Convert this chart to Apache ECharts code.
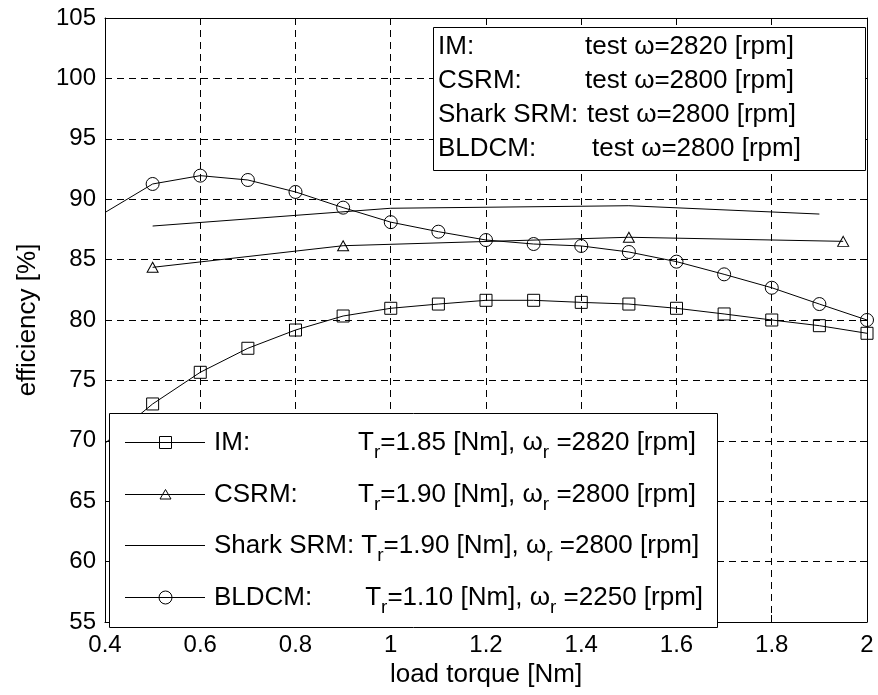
<!DOCTYPE html>
<html><head><meta charset="utf-8">
<script src="https://cdn.jsdelivr.net/npm/echarts@6/dist/echarts.min.js"></script>
<style>html,body{margin:0;padding:0;background:#fff}#c{width:878px;height:695px}</style>
</head><body><div id="c"></div>
<script>
// ---- data ----
const torqueIM = [0.4, 0.5, 0.6, 0.7, 0.8, 0.9, 1.0, 1.1, 1.2, 1.3, 1.4, 1.5, 1.6, 1.7, 1.8, 1.9, 2.0];
const effIM    = [69.8, 73.05, 75.67, 77.66, 79.17, 80.33, 80.97, 81.32, 81.63, 81.63, 81.46, 81.32, 80.97, 80.5, 80.0, 79.53, 78.9];
const torqueBLDCM = [0.4, 0.5, 0.6, 0.7, 0.8, 0.9, 1.0, 1.1, 1.2, 1.3, 1.4, 1.5, 1.6, 1.7, 1.8, 1.9, 2.0];
const effBLDCM    = [88.9, 91.26, 91.95, 91.59, 90.6, 89.3, 88.1, 87.31, 86.62, 86.29, 86.13, 85.63, 84.83, 83.78, 82.67, 81.32, 80.0];
const torqueCSRM = [0.5, 0.9, 1.5, 1.95];
const effCSRM    = [84.36, 86.15, 86.85, 86.51];
const torqueShark = [0.5, 1.0, 1.5, 1.9];
const effShark    = [87.78, 89.25, 89.46, 88.77];

const xMin = 0.4, xMax = 2, xStep = 0.2;
const yMin = 55, yMax = 105, yStep = 5;

const motorNames = ['IM:', 'CSRM:', 'Shark SRM:', 'BLDCM:'];
const testSpeeds = ['2820', '2800', '2800', '2800'];
const ratedTorque = ['1.85', '1.90', '1.90', '1.10'];
const ratedSpeed  = ['2820', '2800', '2800', '2250'];
const xTitle = 'load torque [Nm]';
const yTitle = 'efficiency [%]';

// ---- chart ----
const FONT = 'Liberation Sans, Arial, sans-serif';
const chart = echarts.init(document.getElementById('c'), null, {renderer: 'canvas'});

const G = {left: 105, top: 18, width: 762, height: 604};
const markerStyle = {color: 'none', borderColor: '#000', borderWidth: 1};

function pairs(xs, ys, hideFirst) {
  return xs.map((x, i) => (hideFirst && i === 0) ? {value: [x, ys[i]], symbol: 'none'} : [x, ys[i]]);
}
function lineSeries(name, data, symbol, size) {
  return {
    name, type: 'line', data, symbol, symbolSize: size, showSymbol: symbol !== 'none',
    clip: true, animation: false, z: 3,
    lineStyle: {color: '#000', width: 1}, itemStyle: markerStyle,
    emphasis: {disabled: true}
  };
}

const axisCommonX = {
  type: 'value', min: xMin, max: xMax, interval: xStep,
  axisLine: {show: true, onZero: false, lineStyle: {color: '#000', width: 1}},
  axisTick: {show: true, inside: true, length: 7, lineStyle: {color: '#000'}}
};
const axisCommonY = {
  type: 'value', min: yMin, max: yMax, interval: yStep,
  axisLine: {show: true, onZero: false, lineStyle: {color: '#000', width: 1}},
  axisTick: {show: true, inside: true, length: 7, lineStyle: {color: '#000'}}
};
const gridLine = {show: true, lineStyle: {color: '#000', width: 1, type: [7, 5]}};

const LFS = 26;   // legend font size
// legend graphics
const graphics = [];
// upper legend box
const UB = {x: 433.5, y: 27.5, w: 432, h: 143};
graphics.push({type: 'rect', z: 100, shape: {x: UB.x, y: UB.y, width: UB.w, height: UB.h},
  style: {fill: '#fff', stroke: '#000', lineWidth: 1}});
motorNames.forEach((n, i) => {
  const yy = 47 + i * 34;
  graphics.push({type: 'text', z: 101, style: {x: 438, y: yy, text: n, fill: '#000',
    fontSize: LFS, fontFamily: FONT, align: 'left', verticalAlign: 'middle'}});
  graphics.push({type: 'text', z: 101, style: {x: (i === 3 ? 592 : (i === 2 ? 587 : 585)), y: yy,
    text: 'test ω=' + testSpeeds[i] + ' [rpm]', fill: '#000',
    fontSize: LFS, fontFamily: FONT, align: 'left', verticalAlign: 'middle'}});
});
// lower legend box
const LB = {x: 109.5, y: 413.5, w: 608, h: 214};
graphics.push({type: 'rect', z: 100, shape: {x: LB.x, y: LB.y, width: LB.w, height: LB.h},
  style: {fill: '#fff', stroke: '#000', lineWidth: 1}});
const symbols = ['rect', 'triangle', 'none', 'circle'];
motorNames.forEach((n, i) => {
  const yy = Math.round(442 + i * 51.7) + 0.5;
  graphics.push({type: 'line', z: 101, shape: {x1: 125, y1: yy, x2: 205, y2: yy},
    style: {stroke: '#000', lineWidth: 1}});
  const cx = 165.5;
  if (symbols[i] === 'rect') {
    graphics.push({type: 'rect', z: 102, shape: {x: cx - 6, y: yy - 6, width: 12, height: 12},
      style: {fill: 'none', stroke: '#000', lineWidth: 1}});
  } else if (symbols[i] === 'triangle') {
    graphics.push({type: 'polygon', z: 102, shape: {points: [[cx, yy - 5], [cx + 5.5, yy + 4.5], [cx - 5.5, yy + 4.5]]},
      style: {fill: 'none', stroke: '#000', lineWidth: 1}});
  } else if (symbols[i] === 'circle') {
    graphics.push({type: 'circle', z: 102, shape: {cx: cx, cy: yy, r: 6.5},
      style: {fill: 'none', stroke: '#000', lineWidth: 1}});
  }
  const nameTok = n.length > 8 ? '{m|' + n + ' }' : '{n|' + n + '}';
  graphics.push({type: 'text', z: 101, style: {
    x: 214, y: yy,
    text: nameTok + '{t|' + (i === 3 ? ' ' : '') + 'T}{s|r}{t|=' + ratedTorque[i] + ' [Nm], ω}{s|r}{t| =' + ratedSpeed[i] + ' [rpm]}',
    fill: '#000', fontSize: LFS, fontFamily: FONT, align: 'left', verticalAlign: 'middle',
    rich: {
      n: {width: 144, fontSize: LFS, fontFamily: FONT, lineHeight: 44},
      m: {fontSize: LFS, fontFamily: FONT, lineHeight: 44},
      t: {fontSize: LFS, fontFamily: FONT, lineHeight: 44},
      s: {fontSize: 19, fontFamily: FONT, lineHeight: 24, padding: [20, 0, 0, 0]}
    }
  }});
});

const option = {
  animation: false,
  backgroundColor: '#fff',
  grid: {left: G.left, top: G.top, width: G.width, height: G.height, containLabel: false},
  xAxis: [
    Object.assign({}, axisCommonX, {position: 'bottom', name: xTitle, nameLocation: 'middle', nameGap: 32,
      nameTextStyle: {fontSize: 26, fontFamily: FONT, color: '#000'},
      axisLabel: {show: true, fontSize: 24, fontFamily: FONT, color: '#000', margin: 11},
      splitLine: gridLine}),
    Object.assign({}, axisCommonX, {position: 'top', axisLabel: {show: false}, splitLine: {show: false}})
  ],
  yAxis: [
    Object.assign({}, axisCommonY, {position: 'left', name: yTitle, nameLocation: 'middle', nameGap: 64,
      nameTextStyle: {fontSize: 26, fontFamily: FONT, color: '#000'},
      axisLabel: {show: true, fontSize: 24, fontFamily: FONT, color: '#000', margin: 9},
      splitLine: gridLine}),
    Object.assign({}, axisCommonY, {position: 'right', axisLabel: {show: false}, splitLine: {show: false}})
  ],
  series: [
    lineSeries('IM', pairs(torqueIM, effIM, true), 'rect', 12),
    lineSeries('CSRM', pairs(torqueCSRM, effCSRM, false), 'triangle', [11, 10]),
    lineSeries('Shark SRM', pairs(torqueShark, effShark, false), 'none', 0),
    lineSeries('BLDCM', pairs(torqueBLDCM, effBLDCM, true), 'circle', 13)
  ],
  graphic: graphics
};
chart.setOption(option);
</script>
</body></html>
